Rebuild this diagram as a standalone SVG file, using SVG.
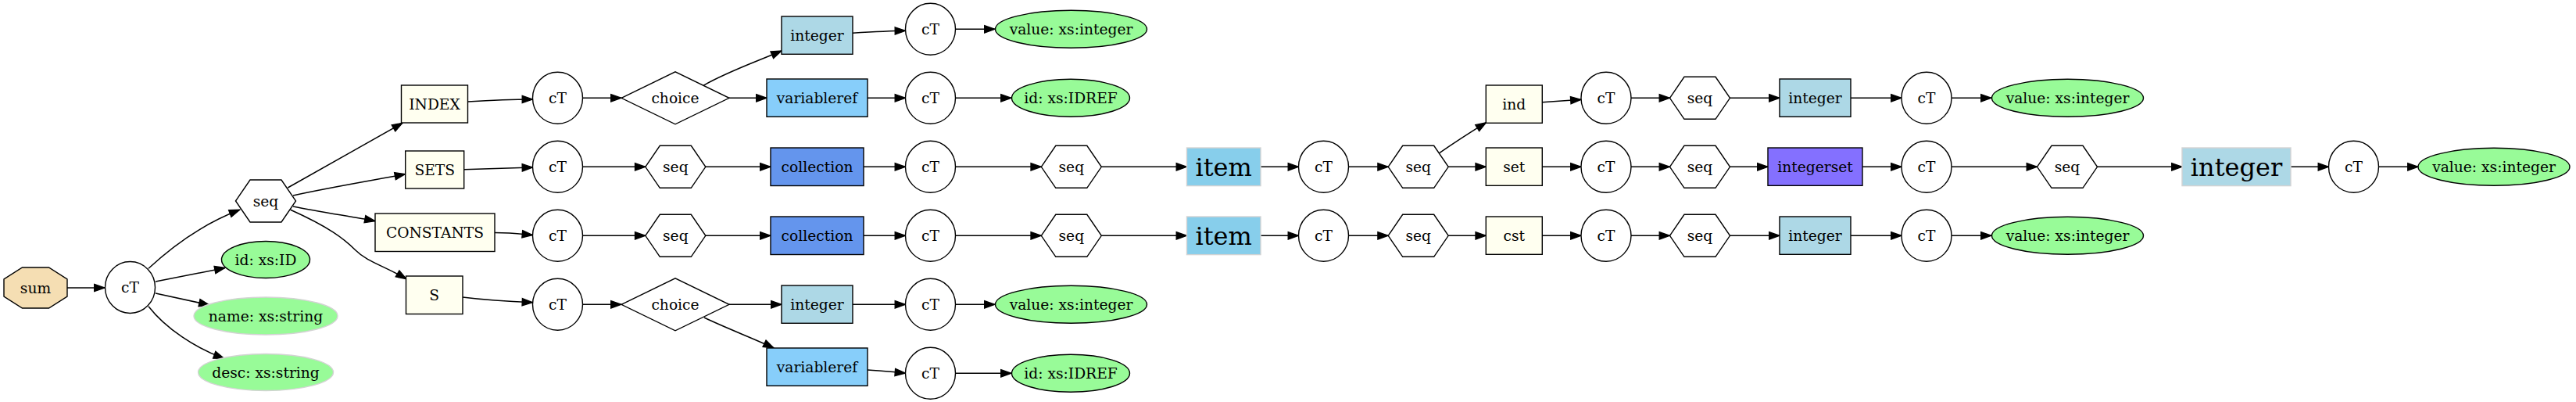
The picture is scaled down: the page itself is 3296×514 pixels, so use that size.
<svg xmlns="http://www.w3.org/2000/svg" width="3296" height="514" viewBox="0 0 3296 514">
<defs>
<style>
.s{stroke:#000;stroke-width:1.4}
.g{stroke:#d3d3d3;stroke-width:1.4}
.w{fill:#fff}
.iv{fill:#fffff0}
.lb{fill:#add8e6}
.vr{fill:#87cefa}
.co{fill:#6495ed}
.sk{fill:#87ceeb}
.pg{fill:#98fb98}
.is{fill:#8470ff}
.wh{fill:#f5deb3}
text{font-family:"DejaVu Serif","Liberation Serif",serif;font-size:18.67px;text-anchor:middle;fill:#000}
text.big{font-size:32px}
.e{fill:none;stroke:#000;stroke-width:1.5;marker-end:url(#ah)}
</style>
<marker id="ah" viewBox="0 0 14 10" refX="13.3" refY="5" markerWidth="14" markerHeight="10" markerUnits="userSpaceOnUse" orient="auto" overflow="visible">
<path d="M0,0.33 L13.3,5 L0,9.67 Z" fill="#000" stroke="#000" stroke-width="1.3"/>
</marker>
</defs>
<rect width="3296" height="514" fill="#fff"/>

<g id="edges">
<path class="e" d="M86,368 L134,368"/>
<path class="e" d="M190,343.3 C215,320 255,288 306.7,268.3"/>
<path class="e" d="M199,360 L288,342.5"/>
<path class="e" d="M199,375 L268,390"/>
<path class="e" d="M190,391.7 C212,420 250,445 286.7,458.3"/>
<path class="e" d="M368.3,240 C400,222 470,183 515,157.3"/>
<path class="e" d="M375,250 C420,240 480,230 518.5,222.7"/>
<path class="e" d="M375,264 C410,271 450,277 480,282.7"/>
<path class="e" d="M371.7,268.3 C420,290 440,305 455,320 C470,335 492,340 520,356.7"/>
<path class="e" d="M598.7,130 C630,128 660,127 681.5,127"/>
<path class="e" d="M593.7,216.7 C630,215.5 660,214.5 681.5,214"/>
<path class="e" d="M633,297.5 C655,297.5 665,299 681.5,300.5"/>
<path class="e" d="M592,380 C620,383.5 650,385.5 681.5,386.7"/>
<path class="e" d="M745.5,125.3 L795,125.3"/>
<path class="e" d="M900,109.3 C930,92 965,80 1000,65"/>
<path class="e" d="M933,125.3 L981,125.3"/>
<path class="e" d="M1091,42.3 C1120,40.5 1140,39.5 1158.5,39.3"/>
<path class="e" d="M1110,125.3 L1158.5,125.3"/>
<path class="e" d="M1222.5,37.3 L1273,37.3"/>
<path class="e" d="M1222.5,125.3 L1294,125.3"/>
<path class="e" d="M745.5,213.3 L825.8,213.3"/>
<path class="e" d="M902.8,213.3 L986,213.3"/>
<path class="e" d="M1105,213.3 L1158.5,213.3"/>
<path class="e" d="M1222.5,213.3 L1332.3,213.3"/>
<path class="e" d="M1409.3,213.3 L1518.5,213.3"/>
<path class="e" d="M745.5,301.3 L825.8,301.3"/>
<path class="e" d="M902.8,301.3 L986,301.3"/>
<path class="e" d="M1105,301.3 L1158.5,301.3"/>
<path class="e" d="M1222.5,301.3 L1332.3,301.3"/>
<path class="e" d="M1409.3,301.3 L1518.5,301.3"/>
<path class="e" d="M745.5,389.3 L795,389.3"/>
<path class="e" d="M933,389.3 L1000,389.3"/>
<path class="e" d="M901,406 C930,420 965,433 990,445"/>
<path class="e" d="M1091,389.3 L1158.5,389.3"/>
<path class="e" d="M1222.5,389.3 L1273,389.3"/>
<path class="e" d="M1110,473 C1130,474 1145,476 1158.5,477"/>
<path class="e" d="M1222.5,477.3 L1294,477.3"/>
<path class="e" d="M1613,213.3 L1661.5,213.3"/>
<path class="e" d="M1725.5,213.3 L1776.2,213.3"/>
<path class="e" d="M1841.7,195.7 C1860,183 1880,170 1901.5,156.7"/>
<path class="e" d="M1853.2,213.3 L1901.3,213.3"/>
<path class="e" d="M1973.3,130.7 L2023,127.3"/>
<path class="e" d="M1973.3,213.3 L2023,213.3"/>
<path class="e" d="M2087,125.3 L2136.5,125.3"/>
<path class="e" d="M2213.5,125.3 L2277,125.3"/>
<path class="e" d="M2368,125.3 L2433,125.3"/>
<path class="e" d="M2497,125.3 L2548,125.3"/>
<path class="e" d="M2087,213.3 L2136.5,213.3"/>
<path class="e" d="M2213.5,213.3 L2262,213.3"/>
<path class="e" d="M2383,213.3 L2433,213.3"/>
<path class="e" d="M2497,213.3 L2606.5,213.3"/>
<path class="e" d="M2683.5,213.3 L2792,213.3"/>
<path class="e" d="M2931,213.3 L2979.5,213.3"/>
<path class="e" d="M3043.5,213.3 L3094,213.3"/>
<path class="e" d="M1613,301.3 L1661.5,301.3"/>
<path class="e" d="M1725.5,301.3 L1776.2,301.3"/>
<path class="e" d="M1853.2,301.3 L1901.3,301.3"/>
<path class="e" d="M1973.3,301.3 L2023,301.3"/>
<path class="e" d="M2087,301.3 L2136.5,301.3"/>
<path class="e" d="M2213.5,301.3 L2277,301.3"/>
<path class="e" d="M2368,301.3 L2433,301.3"/>
<path class="e" d="M2497,301.3 L2548,301.3"/>
</g>

<g id="n_sum"><polygon class="s wh" points="28.5,342 62.5,342 86,357 86,379 62.5,394 28.5,394 5,379 5,357"/><text x="45.5" y="374.8">sum</text></g>
<g id="n_ct0"><ellipse class="s w" cx="166.5" cy="367.5" rx="32" ry="33"/><text x="166.5" y="374.3">cT</text></g>
<g id="n_seq0"><polygon class="s w" points="301.5,257 320,230 360,230 378.5,257 360,284 320,284"/><text x="340" y="263.8">seq</text></g>
<g id="n_id0"><ellipse class="s pg" cx="340" cy="332" rx="56.5" ry="23.5"/><text x="340" y="338.8">id: xs:ID</text></g>
<g id="n_name"><ellipse class="g pg" cx="340" cy="404" rx="92" ry="24"/><text x="340" y="410.8">name: xs:string</text></g>
<g id="n_desc"><ellipse class="g pg" cx="340" cy="476" rx="86.5" ry="23.5"/><text x="340" y="482.8">desc: xs:string</text></g>

<g id="n_INDEX"><rect class="s iv" x="513.5" y="109" width="85" height="48"/><text x="556" y="139.8">INDEX</text></g>
<g id="n_SETS"><rect class="s iv" x="518.7" y="193" width="75" height="48"/><text x="556.2" y="223.8">SETS</text></g>
<g id="n_CONSTANTS"><rect class="s iv" x="480" y="273" width="153" height="48.5"/><text x="556.5" y="304">CONSTANTS</text></g>
<g id="n_S"><rect class="s iv" x="519.5" y="353" width="72.5" height="48.5"/><text x="555.7" y="384">S</text></g>

<g id="n_ct1"><ellipse class="s w" cx="713.5" cy="125.3" rx="32" ry="33"/><text x="713.5" y="132.1">cT</text></g>
<g id="n_ct2"><ellipse class="s w" cx="713.5" cy="213.3" rx="32" ry="33"/><text x="713.5" y="220.1">cT</text></g>
<g id="n_ct3"><ellipse class="s w" cx="713.5" cy="301.3" rx="32" ry="33"/><text x="713.5" y="308.1">cT</text></g>
<g id="n_ct4"><ellipse class="s w" cx="713.5" cy="389.3" rx="32" ry="33"/><text x="713.5" y="396.1">cT</text></g>

<g id="n_choice1"><polygon class="s w" points="795,125.3 864,91.8 933,125.3 864,158.8"/><text x="864" y="132.1">choice</text></g>
<g id="n_seq1"><polygon class="s w" points="825.8,213.3 844.3,186.3 884.3,186.3 902.8,213.3 884.3,240.3 844.3,240.3"/><text x="864.3" y="220.1">seq</text></g>
<g id="n_seq2"><polygon class="s w" points="825.8,301.3 844.3,274.3 884.3,274.3 902.8,301.3 884.3,328.3 844.3,328.3"/><text x="864.3" y="308.1">seq</text></g>
<g id="n_choice2"><polygon class="s w" points="795,389.3 864,355.8 933,389.3 864,422.8"/><text x="864" y="396.1">choice</text></g>

<g id="n_intA"><rect class="s lb" x="1000" y="21" width="91" height="48.3"/><text x="1045.5" y="51.9">integer</text></g>
<g id="n_varA"><rect class="s vr" x="981" y="101" width="129" height="48.3"/><text x="1045.5" y="132.1">variableref</text></g>
<g id="n_colA"><rect class="s co" x="986" y="189" width="119" height="48.5"/><text x="1045.5" y="220.1">collection</text></g>
<g id="n_colB"><rect class="s co" x="986" y="277" width="119" height="48.5"/><text x="1045.5" y="308.1">collection</text></g>
<g id="n_intB"><rect class="s lb" x="1000" y="365" width="91" height="48.3"/><text x="1045.5" y="396.1">integer</text></g>
<g id="n_varB"><rect class="s vr" x="981" y="445" width="129" height="48.3"/><text x="1045.5" y="476">variableref</text></g>

<g id="n_ct5"><ellipse class="s w" cx="1190.5" cy="37.3" rx="32" ry="33"/><text x="1190.5" y="44.1">cT</text></g>
<g id="n_ct6"><ellipse class="s w" cx="1190.5" cy="125.3" rx="32" ry="33"/><text x="1190.5" y="132.1">cT</text></g>
<g id="n_ct7"><ellipse class="s w" cx="1190.5" cy="213.3" rx="32" ry="33"/><text x="1190.5" y="220.1">cT</text></g>
<g id="n_ct8"><ellipse class="s w" cx="1190.5" cy="301.3" rx="32" ry="33"/><text x="1190.5" y="308.1">cT</text></g>
<g id="n_ct9"><ellipse class="s w" cx="1190.5" cy="389.3" rx="32" ry="33"/><text x="1190.5" y="396.1">cT</text></g>
<g id="n_ct10"><ellipse class="s w" cx="1190.5" cy="477.3" rx="32" ry="33"/><text x="1190.5" y="484.1">cT</text></g>

<g id="n_valA"><ellipse class="s pg" cx="1370.5" cy="37.3" rx="97" ry="24"/><text x="1370.5" y="44.1">value: xs:integer</text></g>
<g id="n_idA"><ellipse class="s pg" cx="1370" cy="125.3" rx="75.5" ry="24"/><text x="1370" y="132.1">id: xs:IDREF</text></g>
<g id="n_seq3"><polygon class="s w" points="1332.3,213.3 1350.8,186.3 1390.8,186.3 1409.3,213.3 1390.8,240.3 1350.8,240.3"/><text x="1370.8" y="220.1">seq</text></g>
<g id="n_seq4"><polygon class="s w" points="1332.3,301.3 1350.8,274.3 1390.8,274.3 1409.3,301.3 1390.8,328.3 1350.8,328.3"/><text x="1370.8" y="308.1">seq</text></g>
<g id="n_valB"><ellipse class="s pg" cx="1370.5" cy="389.3" rx="97" ry="24"/><text x="1370.5" y="396.1">value: xs:integer</text></g>
<g id="n_idB"><ellipse class="s pg" cx="1370" cy="477.3" rx="75.5" ry="24"/><text x="1370" y="484.1">id: xs:IDREF</text></g>

<g id="n_itemA"><rect class="g sk" x="1518.5" y="189" width="94.5" height="48.6"/><text class="big" x="1565.7" y="224.8">item</text></g>
<g id="n_itemB"><rect class="g sk" x="1518.5" y="277" width="94.5" height="48.6"/><text class="big" x="1565.7" y="312.8">item</text></g>

<g id="n_ct11"><ellipse class="s w" cx="1693.5" cy="213.3" rx="32" ry="33"/><text x="1693.5" y="220.1">cT</text></g>
<g id="n_ct12"><ellipse class="s w" cx="1693.5" cy="301.3" rx="32" ry="33"/><text x="1693.5" y="308.1">cT</text></g>
<g id="n_seq5"><polygon class="s w" points="1776.2,213.3 1794.7,186.3 1834.7,186.3 1853.2,213.3 1834.7,240.3 1794.7,240.3"/><text x="1814.7" y="220.1">seq</text></g>
<g id="n_seq6"><polygon class="s w" points="1776.2,301.3 1794.7,274.3 1834.7,274.3 1853.2,301.3 1834.7,328.3 1794.7,328.3"/><text x="1814.7" y="308.1">seq</text></g>

<g id="n_ind"><rect class="s iv" x="1901.3" y="109" width="72" height="48.3"/><text x="1937.3" y="139.8">ind</text></g>
<g id="n_set"><rect class="s iv" x="1901.3" y="189" width="72" height="48.3"/><text x="1937.3" y="220.1">set</text></g>
<g id="n_cst"><rect class="s iv" x="1901.3" y="277" width="72" height="48.3"/><text x="1937.3" y="308.1">cst</text></g>

<g id="n_ct13"><ellipse class="s w" cx="2055" cy="125.3" rx="32" ry="33"/><text x="2055" y="132.1">cT</text></g>
<g id="n_ct14"><ellipse class="s w" cx="2055" cy="213.3" rx="32" ry="33"/><text x="2055" y="220.1">cT</text></g>
<g id="n_ct15"><ellipse class="s w" cx="2055" cy="301.3" rx="32" ry="33"/><text x="2055" y="308.1">cT</text></g>
<g id="n_seq7"><polygon class="s w" points="2136.5,125.3 2155,98.3 2195,98.3 2213.5,125.3 2195,152.3 2155,152.3"/><text x="2175" y="132.1">seq</text></g>
<g id="n_seq8"><polygon class="s w" points="2136.5,213.3 2155,186.3 2195,186.3 2213.5,213.3 2195,240.3 2155,240.3"/><text x="2175" y="220.1">seq</text></g>
<g id="n_seq9"><polygon class="s w" points="2136.5,301.3 2155,274.3 2195,274.3 2213.5,301.3 2195,328.3 2155,328.3"/><text x="2175" y="308.1">seq</text></g>

<g id="n_intC"><rect class="s lb" x="2277" y="101" width="91" height="48.3"/><text x="2322.5" y="132.1">integer</text></g>
<g id="n_intset"><rect class="s is" x="2262" y="189" width="121" height="48.3"/><text x="2322.5" y="220.1">integerset</text></g>
<g id="n_intD"><rect class="s lb" x="2277" y="277" width="91" height="48.3"/><text x="2322.5" y="308.1">integer</text></g>

<g id="n_ct16"><ellipse class="s w" cx="2465" cy="125.3" rx="32" ry="33"/><text x="2465" y="132.1">cT</text></g>
<g id="n_ct17"><ellipse class="s w" cx="2465" cy="213.3" rx="32" ry="33"/><text x="2465" y="220.1">cT</text></g>
<g id="n_ct18"><ellipse class="s w" cx="2465" cy="301.3" rx="32" ry="33"/><text x="2465" y="308.1">cT</text></g>

<g id="n_valC"><ellipse class="s pg" cx="2645.5" cy="125.3" rx="97" ry="24"/><text x="2645.5" y="132.1">value: xs:integer</text></g>
<g id="n_seq10"><polygon class="s w" points="2606.5,213.3 2625,186.3 2665,186.3 2683.5,213.3 2665,240.3 2625,240.3"/><text x="2645" y="220.1">seq</text></g>
<g id="n_valD"><ellipse class="s pg" cx="2645.5" cy="301.3" rx="97" ry="24"/><text x="2645.5" y="308.1">value: xs:integer</text></g>

<g id="n_intBig"><rect class="g lb" x="2792" y="189" width="139" height="48.6"/><text class="big" x="2861.5" y="224.5">integer</text></g>
<g id="n_ct19"><ellipse class="s w" cx="3011.5" cy="213.3" rx="32" ry="33"/><text x="3011.5" y="220.1">cT</text></g>
<g id="n_valE"><ellipse class="s pg" cx="3191" cy="213.3" rx="97" ry="24"/><text x="3191" y="220.1">value: xs:integer</text></g>
</svg>
